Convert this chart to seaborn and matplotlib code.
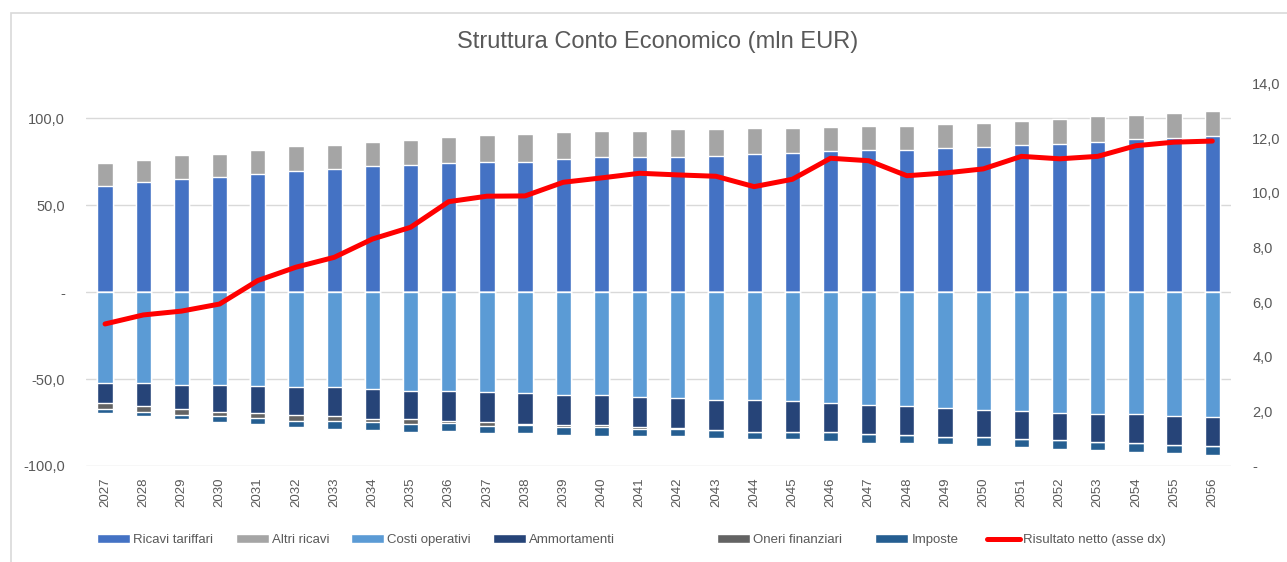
import numpy as np
import matplotlib
matplotlib.use('Agg')
import matplotlib.pyplot as plt
from matplotlib.patches import Patch, Rectangle
from matplotlib.lines import Line2D
from matplotlib.ticker import FuncFormatter
import seaborn as sns

# dati (mln EUR)
anni = [str(a) for a in range(2027, 2057)]
ricavi_tariffari = [61.2, 63.5, 65.2, 66.4, 68.1, 69.9, 70.8, 72.6, 73.3, 74.5,
                    75.1, 75.1, 76.8, 77.8, 77.8, 77.8, 78.5, 79.7, 80.3, 81.2,
                    81.8, 81.8, 82.8, 83.5, 84.5, 85.3, 86.2, 88.0, 88.7, 89.7]
altri_ricavi = [13.3, 12.5, 13.5, 13.3, 14.0, 14.0, 14.2, 14.0, 14.2, 14.8,
                15.2, 16.2, 15.2, 15.0, 15.0, 16.0, 15.2, 14.8, 14.2, 14.0,
                14.0, 14.0, 14.0, 14.0, 14.0, 14.2, 15.0, 14.2, 14.2, 14.8]
costi_operativi = [52.3, 52.3, 53.3, 53.3, 54.1, 54.8, 54.8, 55.8, 56.6, 56.6,
                   57.5, 58.3, 59.3, 59.3, 60.2, 61.0, 61.8, 61.8, 62.7, 63.8,
                   65.0, 65.8, 66.8, 67.6, 68.5, 69.3, 70.2, 70.2, 71.0, 72.0]
ammortamenti = [11.4, 13.1, 13.9, 15.6, 15.4, 15.8, 16.4, 17.1, 16.4, 17.3,
                17.3, 17.5, 17.3, 17.3, 17.3, 17.3, 17.5, 18.5, 17.5, 16.7,
                16.4, 16.6, 16.6, 15.8, 15.8, 15.8, 15.8, 16.6, 16.7, 16.6]
oneri_finanziari = [3.7, 3.7, 3.5, 2.5, 2.9, 3.7, 3.1, 1.9, 2.9, 1.5,
                    2.1, 0.8, 1.0, 1.0, 1.0, 0.3, 0.2, 0.1, 0.1, 0.0,
                    0.0, 0.0, 0.0, 0.0, 0.0, 0.0, 0.0, 0.0, 0.0, 0.0]
imposte = [2.3, 2.3, 2.5, 3.5, 3.5, 3.3, 4.2, 4.6, 4.4, 4.6,
           4.0, 4.4, 4.4, 5.2, 4.2, 4.4, 4.4, 4.2, 4.2, 5.2,
           5.2, 4.4, 4.2, 5.2, 5.0, 5.2, 5.0, 5.2, 5.0, 5.2]
risultato_netto = [5.20, 5.53, 5.67, 5.93, 6.79, 7.28, 7.64, 8.31, 8.74, 9.68,
                   9.88, 9.89, 10.39, 10.55, 10.72, 10.66, 10.61, 10.23, 10.50, 11.27,
                   11.18, 10.63, 10.73, 10.88, 11.34, 11.25, 11.34, 11.73, 11.86, 11.90]

colori = {
    'Ricavi tariffari': '#4472C4',
    'Altri ricavi': '#A5A5A5',
    'Costi operativi': '#5B9BD5',
    'Ammortamenti': '#264478',
    'Oneri finanziari': '#636363',
    'Imposte': '#255E91',
}
grigio_testo = '#595959'

sns.set_style('white')
plt.rcParams['font.family'] = ['Liberation Sans', 'DejaVu Sans']

fig = plt.figure(figsize=(12.87, 5.62), dpi=100)
ax = fig.add_axes([0.0668, 0.171, 0.890, 0.680])

ric = np.array(ricavi_tariffari)
alt = np.array(altri_ricavi)
cos = np.array(costi_operativi)
amm = np.array(ammortamenti)
one = np.array(oneri_finanziari)
imp = np.array(imposte)

# stacked bars: draw cumulative totals, largest first
strati = [
    (ric + alt, 'Altri ricavi'),
    (ric, 'Ricavi tariffari'),
    (-(cos + amm + one + imp), 'Imposte'),
    (-(cos + amm + one), 'Oneri finanziari'),
    (-(cos + amm), 'Ammortamenti'),
    (-cos, 'Costi operativi'),
]
for valori, nome in strati:
    sns.barplot(x=anni, y=valori, color=colori[nome], saturation=1, width=0.4,
                errorbar=None, ax=ax, zorder=2)

ax.set_ylim(-100, 120)
ax.set_yticks([-100, -50, 0, 50, 100])
ax.set_xlim(-0.5, len(anni) - 0.5)
ax.grid(axis='y', color='#D9D9D9', linewidth=1.0, zorder=0)
ax.set_axisbelow(True)


def fmt(v, pos):
    if abs(v) < 1e-9:
        return '-'
    return f'{v:.1f}'.replace('.', ',')


ax.yaxis.set_major_formatter(FuncFormatter(fmt))
ax.tick_params(axis='y', length=0, pad=15, labelsize=10.5, labelcolor=grigio_testo)
ax.tick_params(axis='x', length=0, pad=8, labelsize=9.5, labelcolor=grigio_testo,
               labelrotation=90)
ax.set_xlabel('')
ax.set_ylabel('')
for s in ax.spines.values():
    s.set_visible(False)

# risultato netto sull'asse destro
ax2 = ax.twinx()
sns.lineplot(x=np.arange(len(anni)), y=risultato_netto, color='#FF0000', linewidth=3.6,
             ax=ax2, solid_capstyle='round')
ax2.set_ylim(0, 14)
ax2.set_yticks(np.arange(0, 15, 2))
ax2.yaxis.set_major_formatter(FuncFormatter(fmt))
ax2.tick_params(axis='y', length=0, pad=15, labelsize=10.5, labelcolor=grigio_testo)
ax2.set_xlim(-0.5, len(anni) - 0.5)
ax2.set_ylabel('')
ax2.grid(False)
for s in ax2.spines.values():
    s.set_visible(False)

fig.text(0.511, 0.925, 'Struttura Conto Economico (mln EUR)', ha='center', va='center',
         fontsize=17, color=grigio_testo)

# legenda: una voce alla volta, come in Excel
nomi_legenda = ['Ricavi tariffari', 'Altri ricavi', 'Costi operativi', 'Ammortamenti',
                'Oneri finanziari', 'Imposte']
handles = [Patch(facecolor=colori[n], label=n) for n in nomi_legenda]
handles.append(Line2D([0], [0], color='#FF0000', linewidth=3.6, solid_capstyle='round',
                      label='Risultato netto (asse dx)'))
x_legenda = [97, 236, 351, 493, 717, 875, 987]
for h, xp in zip(handles, x_legenda):
    fig.legend(handles=[h], loc='center left', bbox_to_anchor=(xp / 1287, 0.039),
               frameon=False, fontsize=9.5, labelcolor=grigio_testo, handlelength=2.5,
               handleheight=0.6, handletextpad=0.25, borderpad=0, borderaxespad=0)

# bordo del grafico
fig.patches.append(Rectangle((11 / 1287, -0.05), 1.05, 1 - 13 / 562 + 0.05,
                             transform=fig.transFigure, fill=False,
                             edgecolor='#D9D9D9', linewidth=1.2))

fig.savefig('out.png', dpi=100)
